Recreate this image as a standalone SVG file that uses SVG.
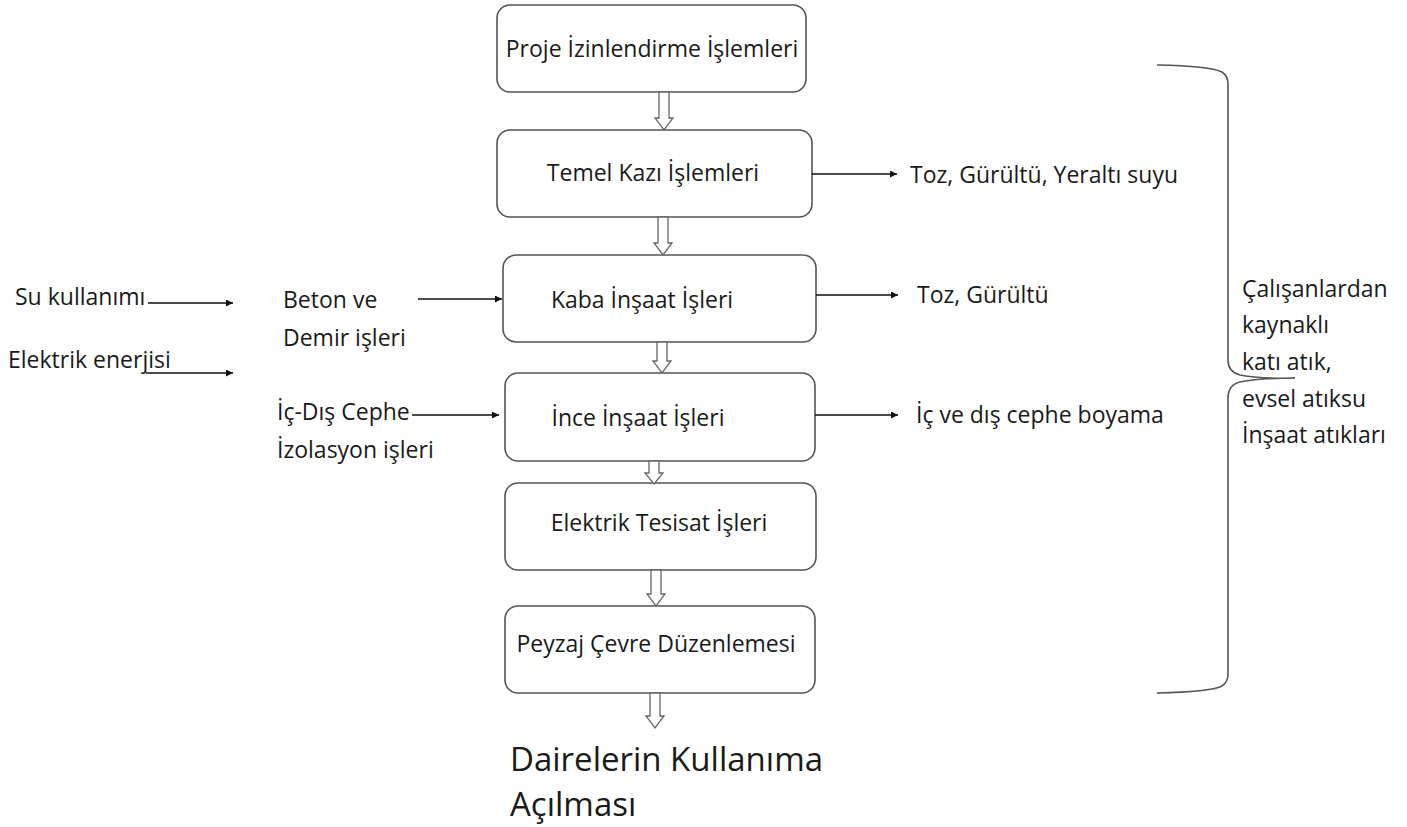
<svg xmlns="http://www.w3.org/2000/svg" width="1407" height="827" viewBox="0 0 1407 827">
<defs>
<style>
.box{fill:#fff;stroke:#555;stroke-width:1.6}
.t{font-family:"Open Sans","Liberation Sans",sans-serif;font-size:23px;fill:#1a1a1a}
.bt{font-family:"Open Sans","Liberation Sans",sans-serif;font-size:23px;fill:#1a1a1a}
.big{font-family:"Open Sans","Liberation Sans",sans-serif;font-size:33px;fill:#1a1a1a}
.ln{stroke:#111;stroke-width:1.4;fill:none}
.ha{fill:#fff;stroke:#666;stroke-width:1.3}
.br{fill:none;stroke:#555;stroke-width:1.6}
</style>
<marker id="ah" viewBox="0 0 10 10" refX="10" refY="5" markerWidth="7" markerHeight="7" markerUnits="userSpaceOnUse" orient="auto">
<path d="M0,0 L10,5 L0,10 z" fill="#111"/>
</marker>
</defs>
<rect width="1407" height="827" fill="#fff"/>

<g id="n1"><rect class="box" x="497" y="5" width="309" height="87" rx="13"/><text class="bt" x="652" y="57" text-anchor="middle">Proje İzinlendirme İşlemleri</text></g>
<g id="n2"><rect class="box" x="497" y="130" width="315" height="87" rx="13"/><text class="bt" x="653" y="181" text-anchor="middle">Temel Kazı İşlemleri</text></g>
<g id="n3"><rect class="box" x="503" y="255" width="313" height="87" rx="13"/><text class="bt" x="642" y="308" text-anchor="middle">Kaba İnşaat İşleri</text></g>
<g id="n4"><rect class="box" x="505" y="373" width="310" height="88" rx="13"/><text class="bt" x="638" y="426" text-anchor="middle">İnce İnşaat İşleri</text></g>
<g id="n5"><rect class="box" x="505" y="483" width="311" height="87" rx="13"/><text class="bt" x="659" y="531" text-anchor="middle">Elektrik Tesisat İşleri</text></g>
<g id="n6"><rect class="box" x="505" y="606" width="310" height="87" rx="13"/><text class="bt" x="656" y="652" text-anchor="middle">Peyzaj Çevre Düzenlemesi</text></g>
<g id="n7"><text class="big" x="510" y="771">Dairelerin Kullanıma</text><text class="big" x="510" y="816">Açılması</text></g>

<g id="inputs">
<text class="t" x="15" y="305">Su kullanımı</text>
<text class="t" x="8" y="368">Elektrik enerjisi</text>
<text class="t" x="283" y="308">Beton ve</text>
<text class="t" x="283" y="346">Demir işleri</text>
<text class="t" x="277" y="420">İç-Dış Cephe</text>
<text class="t" x="277" y="458">İzolasyon işleri</text>
</g>
<g id="outputs">
<text class="t" x="910" y="183">Toz, Gürültü, Yeraltı suyu</text>
<text class="t" x="917" y="303">Toz, Gürültü</text>
<text class="t" x="916" y="423">İç ve dış cephe boyama</text>
</g>
<g id="waste">
<path class="br" d="M1157,65 Q1210,66 1222,72 Q1228,76 1228,84 L1228,360 Q1228,372 1240,375 Q1262,379 1295,378 Q1262,378 1240,382 Q1228,385 1228,398 L1228,674 Q1228,682 1222,686 Q1210,692 1157,693"/>
<text class="t" x="1242" y="297">Çalışanlardan</text>
<text class="t" x="1242" y="333">kaynaklı</text>
<text class="t" x="1242" y="370">katı atık,</text>
<text class="t" x="1242" y="407">evsel atıksu</text>
<text class="t" x="1242" y="443">İnşaat atıkları</text>
</g>

<g id="connectors">
<path class="ha" d="M659,92 L669,92 L669,118 L673,118 L664,130 L655,118 L659,118 Z"/>
<path class="ha" d="M658,217 L668,217 L668,243 L672,243 L663,255 L654,243 L658,243 Z"/>
<path class="ha" d="M657,342 L667,342 L667,361 L671,361 L662,373 L653,361 L657,361 Z"/>
<path class="ha" d="M649,461 L659,461 L659,473 L663,473 L654,484 L645,473 L649,473 Z"/>
<path class="ha" d="M651,570 L661,570 L661,594 L665,594 L656,606 L647,594 L651,594 Z"/>
<path class="ha" d="M650,693 L660,693 L660,716 L664,716 L655,728 L646,716 L650,716 Z"/>
<line class="ln" x1="812" y1="174" x2="897" y2="174" marker-end="url(#ah)"/>
<line class="ln" x1="816" y1="295" x2="898" y2="295" marker-end="url(#ah)"/>
<line class="ln" x1="815" y1="415" x2="898" y2="415" marker-end="url(#ah)"/>
<line class="ln" x1="148" y1="303" x2="233" y2="303" marker-end="url(#ah)"/>
<line class="ln" x1="146" y1="373" x2="233" y2="373" marker-end="url(#ah)"/>
<line class="ln" x1="418" y1="299" x2="502" y2="299" marker-end="url(#ah)"/>
<line class="ln" x1="412" y1="415" x2="499" y2="415" marker-end="url(#ah)"/>
</g>
</svg>
